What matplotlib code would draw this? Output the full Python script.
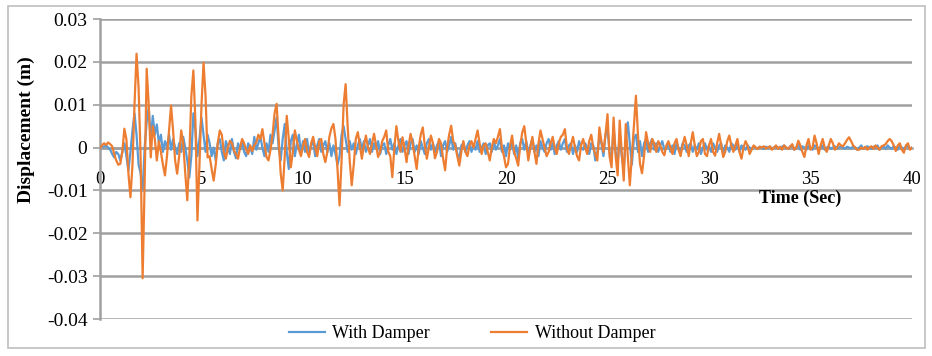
import numpy as np
import matplotlib.pyplot as plt
from matplotlib.patches import Rectangle

# displacement in mm, sampled every 0.1 s from 0 to 40 s
without_damper_mm = [
    0.0, 0.5, 1.0, 0.6, 1.2, 0.8, 0.3, -1.5, -3.0, -4.0,
    -3.8, -1.0, 4.4, 2.0, -6.0, -11.6, -4.0, 10.0, 21.9, 14.0,
    -2.0, -30.5, -8.0, 18.4, 10.0, -2.3, 5.0, 2.0, -3.0, 1.5,
    -1.0, -4.0, -6.5, -2.0, 4.0, 9.8, 4.0, -3.0, -6.1, -2.0,
    4.0, 1.0, -6.0, -12.3, -2.0, 12.0, 18.0, 6.0, -17.0, -4.0,
    10.0, 19.8, 12.0, -2.3, -2.0, -5.0, -7.7, -4.0, 1.0, 4.0,
    3.0, -1.0, -2.6, 0.0, 1.6, 1.0, -0.7, -1.5, -2.6, 0.0,
    2.0, 1.0, -0.5, -1.5, 0.5, -0.8, 0.5, 1.2, 3.0, 2.0,
    4.3, 1.0, -2.2, -3.0, -0.5, 3.0, 8.0, 10.2, 2.0, -6.0,
    -10.0, -2.0, 7.4, 2.0, -4.6, -1.0, 4.0, 1.5, -0.5, -2.0,
    0.5, 2.0, -1.0, -2.2, 1.0, 2.5, 0.0, -2.0, 1.5, 2.0,
    -1.5, -3.4, -1.0, 2.5, 4.5, 5.5, 2.0, -5.0, -13.5, -3.0,
    10.0, 14.8, 5.0, -3.0, -8.8, -4.0, 2.0, 3.6, 0.5, -2.6,
    0.5, 2.8, 0.0, -1.5, 1.0, 3.2, 0.5, -2.2, -1.0, 1.5,
    2.5, 4.0, -1.0, -2.0, -6.9, 0.0, 5.0, 1.5, -1.0, 2.4,
    0.0, -3.4, 0.5, 3.2, 1.0, -2.0, -5.0, 0.0, 3.0, 4.7,
    0.5, -2.6, 0.0, 2.8, 1.0, -2.5, -1.0, 2.0, 1.0, -2.5,
    -5.3, 0.0, 3.0, 5.1, 1.5, 0.5, -2.0, -4.2, -1.0, 1.5,
    -1.0, -2.0, 0.5, 1.5, 0.0, 2.0, 4.0, 1.0, -1.5, 0.5,
    1.0, -1.0, -3.0, 0.0, 2.0, 1.0, 2.5, 4.3, 0.0, -2.0,
    -4.6, -3.8, 0.5, 2.8, -1.0, -2.5, -4.2, 0.5, 3.5, 5.0,
    1.0, -3.0, 0.0, 2.5, -1.0, -3.8, 1.0, 4.0, 2.0, 0.0,
    -2.0, -1.0, 1.0, 2.5, 0.0, -1.5, 1.0, 2.5, 3.0, 4.3,
    0.0, -1.5, 0.5, 2.5, 0.0, -2.0, -3.0, 0.5, 2.0, 0.0,
    -1.5, 1.5, 3.0, 0.0, -1.5, -3.0, 4.7, 1.5, -1.0, 3.0,
    7.8, -2.0, -4.6, 7.0, -2.0, -6.5, 6.3, -1.0, -7.7, 5.5,
    -2.0, -8.8, -2.0, 5.0, 12.1, 3.0, -3.8, -6.0, -2.0, 3.6,
    1.0, -1.0, 2.0, 1.0, -1.0, 1.5, 0.5, -1.0, -1.8, 0.5,
    1.5, 0.0, -1.5, 1.0, 2.0, -0.5, -2.0, 0.5, 2.5, 0.5,
    -2.0, 1.0, 3.6, 0.5, -2.0, -1.0, 1.5, 2.0, -1.5, -2.0,
    0.5, 2.0, -1.0, -1.9, 1.0, 3.2, 0.5, -2.2, -1.0, 1.5,
    2.8, 0.5, -1.0, 0.5, 2.0, -1.0, -2.6, 0.0, 1.5, 0.5,
    -1.5, -0.5, 0.5, 0.0, -0.3, 0.2, 0.0, 0.3, -0.2, 0.0,
    0.3, -0.5, 0.0, 0.5, -0.3, 0.2, -0.5, 0.5, 0.0, -0.3,
    0.2, 0.8, -0.5, 0.0, 1.6, 0.5, -1.0, -2.2, 0.5, 2.0,
    -0.5, 0.0, 2.8, 1.0, -1.5, 0.5, 2.0, 0.0, -1.0, 0.5,
    2.0, 1.0, -0.5, 0.0, 1.0, 0.5, 0.3, 1.0, 1.8, 2.4,
    1.5, 0.5, 0.0, -0.5, -0.5, 0.0, -0.3, 0.2, -0.5, 0.0,
    0.3, -0.3, 0.5, 0.0, -0.5, 0.3, 0.5, 0.8, 1.5, 2.0,
    1.5, 0.5, -0.8, 0.5, 1.0, -0.5, -1.2, 0.5, 1.0, -0.5,
    0.0,
]

with_damper_mm = [
    0.0, 0.3, 0.2, 0.5, 0.0, -0.5, -1.5, -2.3, -1.0, -1.5,
    -3.0, -1.0, 1.0, -2.0, -5.4, -1.0, 4.0, 8.0, 3.0, -4.0,
    -6.0, -10.0, 0.0, 6.0, 9.3, 2.0, 7.4, 3.0, 5.4, 1.0,
    3.0, -1.0, 1.5, 0.0, 3.0, -0.5, 2.0, 0.0, -1.5, 1.0,
    -1.0, 2.5, 0.0, -3.0, -7.0, -2.0, 8.0, 4.0, -2.0, 2.0,
    7.0, 3.0, -1.0, 3.0, 1.0, -2.0, 0.0, -3.0, 1.0, 2.0,
    -1.0, -3.0, 1.5, 0.0, -1.5, 2.0, -1.0, -2.5, 1.0, -0.5,
    1.5, -1.0, -2.0, 1.0, 0.0, -1.5, 2.5, -0.5, 1.0, 2.5,
    0.0, -2.0, 1.0, -1.0, 3.0, 1.0, 4.0, 7.0, 0.0, -3.0,
    2.0, 5.5, -1.0, -5.0, 1.5, 3.0, -2.0, 1.0, 3.0, -1.5,
    1.5, -1.0, 2.0, -1.5, 0.5, 1.5, -2.0, 0.5, 2.0, -1.0,
    0.5, 1.5, -1.0, 1.0, -2.0, 0.5, -1.5, -4.0, -2.0, 3.0,
    5.0, 2.0, -1.0, 1.5, -0.5, 1.0, -1.5, 0.5, 2.0, -0.5,
    1.5, -1.0, 0.5, 2.0, -1.0, 1.0, 0.0, 1.5, -1.5, 0.5,
    1.0, -1.5, 0.5, 2.0, -0.5, 1.0, -1.5, 0.5, 2.0, -1.0,
    0.5, 1.5, -1.5, 1.0, 2.0, -1.0, 0.5, -1.5, 1.5, 0.0,
    -1.5, 1.0, 2.0, -0.5, 1.0, -1.0, 0.5, 1.5, -2.0, 0.5,
    1.5, -1.0, 0.5, 2.5, -0.5, 1.0, -1.5, -2.5, 0.5, 1.0,
    -1.0, 0.5, 1.5, -1.0, 0.5, -0.5, 1.5, -1.0, 0.0, 1.0,
    -1.5, 0.5, 1.0, -1.0, 1.5, -0.5, 0.5, 2.0, -1.0, 0.5,
    -2.0, 1.0, -0.5, 1.5, -1.5, 0.5, -2.5, 1.0, 2.0, -0.5,
    1.5, -1.5, 0.5, 2.0, -1.0, 0.5, -2.0, 1.5, 0.0, -1.0,
    1.0, 2.0, -0.5, 1.0, -1.5, 0.5, 1.5, -0.5, 1.0, 2.0,
    -1.0, 0.5, 1.0, -1.5, 0.5, -1.0, 1.5, 0.0, -0.5, 1.0,
    0.0, -1.5, 1.0, 0.5, -3.0, -1.0, 2.0, 1.0, -2.0, 3.0,
    4.5, -1.0, -3.0, 4.7, -1.0, -4.0, 3.0, -2.0, -5.0, 2.0,
    5.9, 1.0, -4.0, 2.0, 3.0, -1.0, 1.5, -2.0, 1.0, 2.0,
    -1.0, 1.0, 2.0, -0.5, 1.0, -1.0, 0.5, 1.5, -0.5, 0.0,
    1.0, -1.0, 0.5, -1.5, 1.0, 0.0, -1.0, 1.0, 0.5, -1.0,
    0.5, 1.0, -1.0, 0.5, -0.5, 1.0, -1.5, 0.0, 1.0, -0.5,
    0.5, -1.0, 1.0, 0.0, -1.0, 0.5, 1.0, -1.5, 0.5, 0.0,
    -1.0, 1.0, 0.5, -0.5, 1.0, -1.0, 0.5, 0.0, -0.5, 0.5,
    0.0, -0.3, 0.3, 0.0, -0.2, 0.2, 0.0, -0.3, 0.2, 0.0,
    0.2, -0.2, 0.0, 0.3, 0.0, -0.3, 0.2, 0.5, 0.0, -0.3,
    0.3, 0.5, -0.5, 0.0, 0.8, -0.5, 0.3, 0.0, -0.5, 0.5,
    0.0, -0.5, 0.5, 0.3, -0.3, 0.0, 0.5, -0.5, 0.0, 0.3,
    -0.3, 0.0, 0.3, -0.2, 0.0, 0.3, 0.0, -0.3, 0.2, 0.0,
    -0.2, 0.3, 0.0, -0.5, 0.0, 0.5, -0.3, 0.0, 0.3, 0.0,
    -0.3, 0.2, 0.0, 0.5, -0.5, 0.0, 0.3, -0.3, 0.5, 0.0,
    -0.3, 0.3, 0.0, -0.5, 0.5, 0.0, -0.3, 0.2, 0.5, -0.3,
    0.0,
]

time_s = np.linspace(0, 40, len(with_damper_mm))
x_ticks = [0, 5, 10, 15, 20, 25, 30, 35, 40]
y_ticks = [-0.04, -0.03, -0.02, -0.01, 0, 0.01, 0.02, 0.03]
y_labels = ['-0.04', '-0.03', '-0.02', '-0.01', '0', '0.01', '0.02', '0.03']

plt.rcParams['font.family'] = ['Liberation Serif', 'DejaVu Serif']

fig = plt.figure(figsize=(9.32, 3.56), dpi=100)
ax = fig.add_axes([100 / 932, 1 - 319 / 356, 812 / 932, 300 / 356])

grid_c = '#a0a0a0'
ax.plot(time_s, np.array(with_damper_mm) / 1000, color='#5b9bd5', lw=1.6,
        label='With Damper', zorder=3)
ax.plot(time_s, np.array(without_damper_mm) / 1000, color='#ed7d31', lw=1.6,
        label='Without Damper', zorder=4)

ax.set_xlim(0, 40)
ax.set_ylim(-0.04, 0.03)
ax.set_yticks(y_ticks)
ax.set_yticklabels(y_labels)
ax.set_xticks(x_ticks)
ax.yaxis.grid(True, color=grid_c, lw=1.8)
ax.set_axisbelow(True)

for s in ['top', 'right']:
    ax.spines[s].set_visible(False)
ax.spines['left'].set_color(grid_c)
ax.spines['left'].set_linewidth(1.8)
ax.spines['bottom'].set_position(('data', 0))
ax.spines['bottom'].set_color(grid_c)
ax.spines['bottom'].set_linewidth(1.8)

ax.tick_params(axis='y', length=5, width=1.2, color=grid_c, labelsize=14, pad=4)
ax.tick_params(axis='x', length=0, labelsize=13.5, pad=17)

fig.text(800 / 932, 1 - 198 / 356, 'Time (Sec)', ha='center', va='center',
         fontsize=13, fontweight='bold')
fig.text(26 / 932, 1 - 130 / 356, 'Displacement (m)', ha='center', va='center',
         rotation=90, fontsize=14, fontweight='bold')

fig.legend(loc='center', ncol=2, bbox_to_anchor=(472 / 932, 1 - 334 / 356),
           frameon=False, fontsize=13, handlelength=2.0, columnspacing=3.4,
           handletextpad=0.4)

fig.patches.append(Rectangle((8 / 932, 1 - 348 / 356), 917 / 932, 342 / 356,
                             transform=fig.transFigure, fill=False,
                             edgecolor='#bfbfbf', lw=1.2))

plt.savefig('out.png', dpi=100)
